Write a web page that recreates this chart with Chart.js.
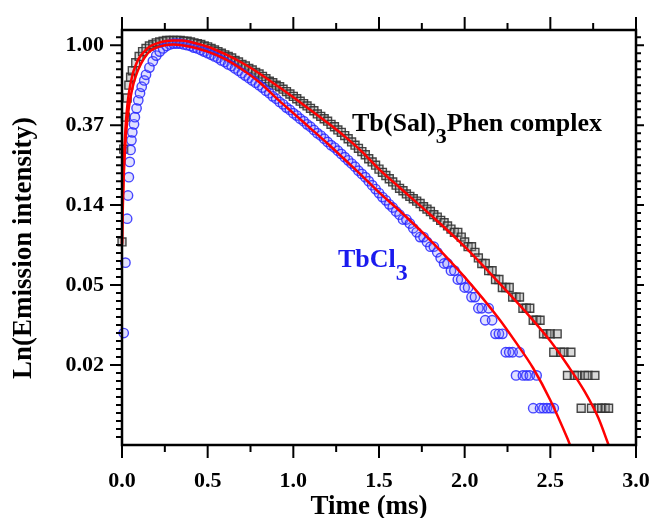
<!DOCTYPE html>
<html><head><meta charset="utf-8">
<script src="https://cdn.jsdelivr.net/npm/chart.js@4.4.1/dist/chart.umd.min.js"></script>
<style>html,body{margin:0;padding:0;background:#fff;}#wrap{width:649px;height:518px;}</style>
</head><body><div id="wrap"><canvas id="c" width="649" height="518"></canvas></div>
<script>
// ---- tick labels ----
const xTickValues = [0, 0.5, 1, 1.5, 2, 2.5, 3];
const xTickLabels = ['0.0', '0.5', '1.0', '1.5', '2.0', '2.5', '3.0'];
const yTickValues = [0, -1, -2, -3, -4];
const yTickLabels = ['1.00', '0.37', '0.14', '0.05', '0.02'];

// ---- Tb(Sal)3Phen complex: time (ms) and ln(normalized intensity) ----
const complexTime = [0.00,0.01,0.02,0.03,0.04,0.05,0.06,0.08,0.10,0.12,0.14,0.16,0.18,0.20,0.22,0.24,0.26,0.28,0.30,0.32,0.34,0.36,0.38,0.40,0.42,0.44,0.46,0.48,0.50,0.52,0.54,0.56,0.58,0.60,0.62,0.64,0.66,0.68,0.70,0.72,0.74,0.76,0.78,0.80,0.82,0.84,0.86,0.88,0.90,0.92,0.94,0.96,0.98,1.00,1.02,1.04,1.06,1.08,1.10,1.12,1.14,1.16,1.18,1.20,1.22,1.24,1.26,1.28,1.30,1.32,1.34,1.36,1.38,1.40,1.42,1.44,1.46,1.48,1.50,1.52,1.54,1.56,1.58,1.60,1.62,1.64,1.66,1.68,1.70,1.72,1.74,1.76,1.78,1.80,1.82,1.84,1.86,1.88,1.90,1.92,1.94,1.96,1.98,2.00,2.02,2.04,2.06,2.08,2.10,2.12,2.14,2.16,2.18,2.20,2.22,2.24,2.26,2.28,2.30,2.32,2.34,2.36,2.38,2.40,2.42,2.44,2.46,2.48,2.50,2.52,2.54,2.56,2.58,2.60,2.62,2.64,2.66,2.68,2.70,2.72,2.74,2.76,2.78,2.80,2.82,2.84];
const complexLn = [-2.46,-1.30,-0.90,-0.66,-0.50,-0.40,-0.32,-0.22,-0.14,-0.08,-0.04,-0.01,0.01,0.03,0.04,0.05,0.06,0.06,0.06,0.06,0.06,0.05,0.05,0.04,0.03,0.02,0.01,-0.01,-0.02,-0.04,-0.06,-0.08,-0.10,-0.12,-0.14,-0.16,-0.19,-0.21,-0.24,-0.26,-0.29,-0.31,-0.34,-0.36,-0.39,-0.42,-0.45,-0.47,-0.50,-0.52,-0.55,-0.58,-0.61,-0.64,-0.67,-0.70,-0.73,-0.76,-0.79,-0.82,-0.86,-0.89,-0.92,-0.95,-0.99,-1.02,-1.06,-1.09,-1.13,-1.17,-1.21,-1.25,-1.29,-1.33,-1.37,-1.42,-1.46,-1.50,-1.55,-1.59,-1.63,-1.67,-1.71,-1.75,-1.79,-1.82,-1.86,-1.89,-1.92,-1.95,-1.98,-2.02,-2.05,-2.08,-2.12,-2.15,-2.19,-2.22,-2.26,-2.30,-2.34,-2.34,-2.40,-2.46,-2.52,-2.52,-2.59,-2.66,-2.73,-2.73,-2.82,-2.82,-2.93,-2.93,-3.03,-3.03,-3.03,-3.15,-3.15,-3.15,-3.29,-3.29,-3.29,-3.44,-3.44,-3.44,-3.61,-3.61,-3.61,-3.84,-3.61,-3.84,-3.84,-4.13,-3.84,-4.13,-4.13,-4.54,-4.13,-4.13,-4.54,-4.13,-4.54,-4.54,-4.54,-4.54];

// ---- TbCl3 ----
const tbcl3Time = [0.01,0.02,0.03,0.035,0.04,0.045,0.05,0.055,0.06,0.07,0.075,0.085,0.095,0.105,0.115,0.13,0.14,0.16,0.18,0.20,0.22,0.24,0.26,0.28,0.30,0.32,0.34,0.36,0.38,0.40,0.42,0.44,0.46,0.48,0.50,0.52,0.54,0.56,0.58,0.60,0.62,0.64,0.66,0.68,0.70,0.72,0.74,0.76,0.78,0.80,0.82,0.84,0.86,0.88,0.90,0.92,0.94,0.96,0.98,1.00,1.02,1.04,1.06,1.08,1.10,1.12,1.14,1.16,1.18,1.20,1.22,1.24,1.26,1.28,1.30,1.32,1.34,1.36,1.38,1.40,1.42,1.44,1.46,1.48,1.50,1.52,1.54,1.56,1.58,1.60,1.62,1.64,1.66,1.68,1.70,1.72,1.74,1.76,1.78,1.80,1.82,1.84,1.86,1.88,1.90,1.92,1.94,1.96,1.98,2.00,2.02,2.04,2.06,2.08,2.10,2.12,2.14,2.16,2.18,2.20,2.22,2.24,2.26,2.28,2.30,2.32,2.34,2.36,2.38,2.40,2.42,2.44,2.46,2.48,2.50,2.52];
const tbcl3Ln = [-3.60,-2.72,-2.17,-1.88,-1.65,-1.46,-1.31,-1.19,-1.09,-0.99,-0.90,-0.79,-0.69,-0.60,-0.52,-0.44,-0.37,-0.28,-0.20,-0.13,-0.08,-0.04,-0.01,0.01,0.02,0.02,0.02,0.01,0.00,-0.01,-0.03,-0.04,-0.06,-0.08,-0.10,-0.12,-0.14,-0.16,-0.19,-0.21,-0.24,-0.26,-0.29,-0.32,-0.35,-0.38,-0.41,-0.44,-0.47,-0.50,-0.53,-0.57,-0.60,-0.64,-0.67,-0.71,-0.74,-0.78,-0.81,-0.85,-0.88,-0.92,-0.95,-0.99,-1.02,-1.06,-1.10,-1.13,-1.17,-1.21,-1.25,-1.28,-1.32,-1.36,-1.40,-1.44,-1.48,-1.52,-1.57,-1.61,-1.65,-1.70,-1.75,-1.80,-1.85,-1.90,-1.94,-1.99,-2.03,-2.08,-2.12,-2.18,-2.18,-2.23,-2.29,-2.34,-2.40,-2.40,-2.46,-2.52,-2.52,-2.59,-2.66,-2.73,-2.73,-2.82,-2.82,-2.93,-2.93,-3.03,-3.03,-3.15,-3.15,-3.29,-3.29,-3.44,-3.29,-3.44,-3.61,-3.61,-3.61,-3.84,-3.84,-3.84,-4.13,-3.84,-4.13,-4.13,-4.13,-4.54,-4.13,-4.54,-4.54,-4.54,-4.54,-4.54];

// ---- fitted curves (red) ----
const complexFitTime = [0,0.005,0.01,0.02,0.03,0.04,0.06,0.08,0.10,0.13,0.16,0.20,0.25,0.30,0.35,0.40,0.50,0.60,0.70,0.80,0.92,1.00,1.10,1.20,1.30,1.40,1.50,1.62,1.80,2.00,2.20,2.35,2.50,2.60,2.70,2.78,2.84];
const complexFitLn = [-2.48,-1.90,-1.50,-1.05,-0.78,-0.60,-0.38,-0.25,-0.16,-0.08,-0.02,0.02,0.05,0.06,0.06,0.04,-0.02,-0.11,-0.22,-0.35,-0.53,-0.65,-0.81,-0.97,-1.14,-1.33,-1.55,-1.78,-2.12,-2.52,-2.97,-3.32,-3.70,-4.00,-4.33,-4.66,-5.00];
const tbcl3FitTime = [0,0.005,0.01,0.02,0.03,0.04,0.06,0.08,0.10,0.13,0.16,0.20,0.25,0.30,0.35,0.40,0.50,0.60,0.70,0.80,0.92,1.00,1.10,1.20,1.30,1.40,1.50,1.62,1.80,2.00,2.20,2.30,2.40,2.50,2.60,2.615];
const tbcl3FitLn = [-2.50,-2.00,-1.65,-1.22,-0.96,-0.78,-0.54,-0.39,-0.28,-0.16,-0.08,-0.03,0.00,0.01,0.00,-0.02,-0.08,-0.17,-0.30,-0.46,-0.70,-0.85,-1.04,-1.23,-1.43,-1.63,-1.84,-2.07,-2.44,-2.90,-3.42,-3.72,-4.04,-4.44,-4.92,-5.00];

const pts = (xs, ys) => xs.map((v, i) => ({x: v, y: ys[i]}));
const FONT = "'Liberation Serif','Times New Roman',serif";

const decor = {
  id: 'decor',
  afterDatasetsDraw(chart) {
    const {ctx, chartArea: a, scales: {x, y}} = chart;
    ctx.save();
    ctx.strokeStyle = '#000';
    ctx.lineWidth = 2;
    ctx.lineCap = 'butt';
    for (let i = 0; i <= 12; i++) {
      const px = x.getPixelForValue(i * 0.25);
      const major = i % 2 === 0;
      ctx.beginPath();
      ctx.moveTo(px, a.bottom); ctx.lineTo(px, a.bottom + (major ? 13 : 7));
      ctx.moveTo(px, a.top); ctx.lineTo(px, a.top - (major ? 13 : 7));
      ctx.stroke();
    }
    for (let k = -49; k <= 1; k++) {
      const py = y.getPixelForValue(k / 10);
      const major = k % 10 === 0;
      ctx.beginPath();
      ctx.moveTo(a.left, py); ctx.lineTo(a.left - (major ? 12 : 6), py);
      ctx.moveTo(a.right, py); ctx.lineTo(a.right + (major ? 8 : 5), py);
      ctx.stroke();
    }
    ctx.lineWidth = 2.5;
    ctx.strokeRect(a.left, a.top, a.right - a.left, a.bottom - a.top);

    // annotations
    ctx.textBaseline = 'alphabetic';
    ctx.textAlign = 'left';
    ctx.fillStyle = '#000';
    ctx.font = 'bold 26px ' + FONT;
    let cx = 352;
    ctx.fillText('Tb(Sal)', cx, 131);
    cx += ctx.measureText('Tb(Sal)').width;
    ctx.font = 'bold 22px ' + FONT;
    ctx.fillText('3', cx, 143);
    cx += ctx.measureText('3').width;
    ctx.font = 'bold 26px ' + FONT;
    ctx.fillText('Phen complex', cx, 131);

    ctx.fillStyle = '#1a1aee';
    cx = 338;
    ctx.fillText('TbCl', cx, 267);
    cx += ctx.measureText('TbCl').width;
    ctx.font = 'bold 24px ' + FONT;
    ctx.fillText('3', cx, 280);

    // axis titles
    ctx.fillStyle = '#000';
    ctx.font = 'bold 27px ' + FONT;
    ctx.textAlign = 'center';
    ctx.textBaseline = 'middle';
    ctx.fillText('Time (ms)', 369, 507);
    ctx.translate(24, 248);
    ctx.rotate(-Math.PI / 2);
    ctx.fillText('Ln(Emission intensity)', 0, 0);
    ctx.restore();
  }
};

new Chart(document.getElementById('c'), {
  type: 'scatter',
  data: {
    datasets: [
      {label: 'Tb(Sal)3Phen complex fit', type: 'line', data: pts(complexFitTime, complexFitLn),
       borderColor: '#ff0000', borderWidth: 2.5, pointRadius: 0, cubicInterpolationMode: 'monotone', fill: false, order: 0},
      {label: 'TbCl3 fit', type: 'line', data: pts(tbcl3FitTime, tbcl3FitLn),
       borderColor: '#ff0000', borderWidth: 2.5, pointRadius: 0, cubicInterpolationMode: 'monotone', fill: false, order: 0},
      {label: 'TbCl3', data: pts(tbcl3Time, tbcl3Ln), pointStyle: 'circle', pointRadius: 4.7,
       borderColor: 'rgba(40,40,255,0.85)', backgroundColor: 'rgba(120,120,255,0.22)', borderWidth: 1.4, order: 1},
      {label: 'Tb(Sal)3Phen complex', data: pts(complexTime, complexLn), pointStyle: 'rect', pointRadius: 5.6,
       borderColor: 'rgba(50,50,50,0.9)', backgroundColor: 'rgba(150,150,150,0.35)', borderWidth: 1.4, order: 2}
    ]
  },
  options: {
    responsive: false,
    animation: false,
    devicePixelRatio: 1,
    clip: false,
    layout: {padding: {left: 0, right: 13, top: 30, bottom: 0}},
    plugins: {legend: {display: false}, tooltip: {enabled: false}},
    scales: {
      x: {
        type: 'linear', min: 0, max: 3,
        grid: {display: false, drawTicks: false},
        border: {display: false},
        afterBuildTicks: s => { s.ticks = xTickValues.map(v => ({value: v})); },
        afterFit: s => { s.height = 73; s.paddingLeft = 0; s.paddingRight = 0; },
        ticks: {
          padding: 23, color: '#000', maxRotation: 0, autoSkip: false,
          font: {family: FONT, size: 22, weight: 'bold'},
          callback: (v) => xTickLabels[xTickValues.indexOf(v)]
        }
      },
      y: {
        type: 'linear', min: -5, max: 0.19,
        grid: {display: false, drawTicks: false},
        border: {display: false},
        afterBuildTicks: s => { s.ticks = yTickValues.map(v => ({value: v})); },
        afterFit: s => { s.width = 122; s.paddingTop = 0; s.paddingBottom = 0; },
        ticks: {
          padding: 18, color: '#000', autoSkip: false,
          font: {family: FONT, size: 22, weight: 'bold'},
          callback: (v) => yTickLabels[yTickValues.indexOf(v)]
        }
      }
    }
  },
  plugins: [decor]
});
</script></body></html>
